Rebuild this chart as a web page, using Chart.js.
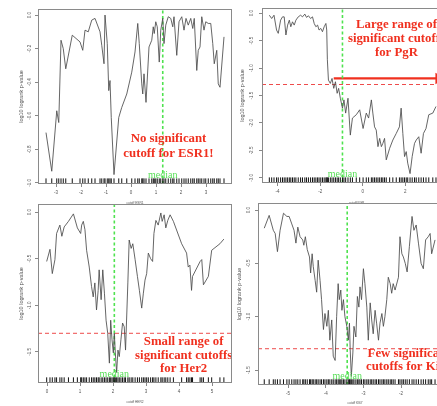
<!DOCTYPE html>
<html><head><meta charset="utf-8">
<script src="https://cdn.jsdelivr.net/npm/chart.js@4"></script>
<style>
html,body{margin:0;padding:0;background:#fff;width:437px;height:406px;overflow:hidden;position:relative}
canvas{position:absolute}
</style></head><body>
<canvas id="c1" width="236" height="207" style="left:0px;top:0px"></canvas>
<canvas id="c2" width="222" height="207" style="left:236px;top:0px"></canvas>
<canvas id="c3" width="236" height="210" style="left:0px;top:196px"></canvas>
<canvas id="c4" width="222" height="210" style="left:236px;top:196px"></canvas>
<script>
// ---------- data ----------
const esrX = [-3.40,-3.17,-2.97,-2.89,-2.80,-2.71,-2.61,-2.35,-2.04,-1.93,-1.84,-1.71,-1.57,-1.44,-1.24,-1.17,-1.08,-1.04,-0.95,-0.89,-0.84,-0.79,-0.68,-0.49,-0.37,-0.17,0.03,0.16,0.27,0.33,0.43,0.47,0.52,0.60,0.72,0.83,0.89,0.93,0.99,1.05,1.13,1.19,1.27,1.32,1.39,1.49,1.59,1.67,1.72,1.83,1.92,2.03,2.12,2.20,2.29,2.39,2.47,2.53,2.63,2.69,2.76,2.83,2.92,2.99,3.09,3.19,3.27,3.33,3.43,3.49,3.56,3.72];
const esrY = [-0.70,-0.93,-0.57,-0.64,-0.15,-0.20,-0.32,-0.12,-0.16,-0.21,-0.09,-0.10,-0.03,-0.02,-0.10,-0.18,-0.29,0.00,-0.17,-0.45,-0.39,-0.61,-0.95,-0.61,-0.55,-0.47,-0.34,-0.22,-0.05,-0.17,-0.41,-0.47,-0.35,-0.52,-0.19,-0.15,-0.07,-0.11,-0.04,-0.07,-0.28,-0.09,-0.02,-0.17,-0.06,-0.01,-0.02,-0.07,-0.01,-0.24,-0.04,-0.01,-0.09,-0.02,-0.06,-0.02,-0.08,-0.02,-0.33,-0.21,-0.19,-0.01,-0.09,-0.04,-0.05,-0.05,-0.17,-0.29,-0.21,-0.41,-0.43,-0.13];
const esrMedian = 1.27;
const esrXTicks = [-3,-2,-1,0,1,2,3];
const esrXLabels = ['-3','-2','-1','0','1','2','3'];
const esrYTicks = [0,-0.2,-0.4,-0.6,-0.8,-1.0];
const esrYLabels = ['0.0','-0.2','-0.4','-0.6','-0.8','-1.0'];

const pgrX = [-4.39,-4.28,-4.17,-4.05,-3.97,-3.86,-3.77,-3.69,-3.61,-3.53,-3.45,-3.38,-3.30,-3.22,-3.14,-3.03,-2.92,-2.83,-2.72,-2.64,-2.55,-2.45,-2.36,-2.28,-2.20,-2.12,-2.05,-1.97,-1.89,-1.81,-1.73,-1.69,-1.66,-1.61,-1.52,-1.44,-1.36,-1.28,-1.20,-1.13,-1.05,-0.95,-0.88,-0.80,-0.69,-0.58,-0.48,-0.30,-0.14,0.02,0.17,0.28,0.41,0.48,0.56,0.64,0.72,0.80,0.88,0.95,1.03,1.11,1.27,1.42,1.58,1.73,1.81,1.89,1.97,2.05,2.12,2.23,2.33,2.44,2.52,2.64,2.75,2.86,2.98,3.11,3.30,3.45];
const pgrY = [-0.04,-0.10,-0.04,-0.31,-0.37,-0.13,-0.07,-0.07,-0.40,-0.22,-0.13,-0.25,-0.16,-0.22,-0.13,-0.07,-0.04,-0.07,-0.02,-0.08,-0.05,-0.10,-0.07,-0.19,-0.25,-0.22,-0.31,-0.28,-0.34,-0.25,-0.19,-0.31,-0.85,-1.22,-1.28,-1.19,-1.37,-1.25,-1.46,-1.37,-1.55,-1.73,-1.58,-1.82,-1.55,-2.22,-1.91,-1.85,-1.76,-2.10,-1.82,-1.91,-1.58,-1.82,-2.07,-2.13,-2.43,-2.28,-2.43,-2.37,-2.28,-2.67,-2.46,-2.31,-2.19,-2.07,-1.73,-2.19,-2.61,-2.52,-2.73,-2.92,-2.61,-2.37,-2.31,-2.25,-2.55,-2.19,-2.10,-1.85,-1.82,-1.70];
const pgrMedian = -0.95;
const pgrXTicks = [-4,-2,0,2];
const pgrXLabels = ['-4','-2','0','2'];
const pgrYTicks = [0,-0.5,-1.0,-1.5,-2.0,-2.5,-3.0];
const pgrYLabels = ['0.0','-0.5','-1.0','-1.5','-2.0','-2.5','-3.0'];

const herX = [-0.01,0.09,0.16,0.24,0.29,0.39,0.45,0.52,0.65,0.80,0.92,1.02,1.05,1.10,1.15,1.20,1.28,1.35,1.40,1.45,1.50,1.55,1.58,1.64,1.69,1.74,1.79,1.84,1.89,1.93,1.97,2.01,2.04,2.07,2.11,2.15,2.19,2.24,2.29,2.34,2.38,2.45,2.49,2.55,2.60,2.67,2.74,2.80,2.87,2.92,2.97,3.02,3.07,3.14,3.20,3.24,3.30,3.37,3.45,3.49,3.55,3.60,3.66,3.73,3.83,4.08,4.23,4.28,4.33,4.38,4.41,4.64,4.69,4.74,4.89,4.99,5.24,5.36];
const herY = [-0.53,-0.40,-0.66,-0.51,-0.23,-0.14,-0.26,-0.16,-0.10,-0.02,-0.17,-0.23,-0.14,-0.10,-0.19,-0.41,-0.59,-0.80,-0.91,-0.76,-1.05,-0.84,-0.62,-0.94,-0.62,-0.87,-1.16,-1.30,-1.62,-1.16,-1.37,-1.51,-1.30,-1.51,-1.72,-1.48,-1.55,-1.37,-1.19,-1.23,-1.48,-0.76,-0.30,-0.39,-0.34,-0.51,-0.69,-0.84,-1.03,-0.87,-0.73,-0.66,-0.44,-0.50,-0.53,-0.23,-0.09,-0.14,-0.01,-0.10,-0.03,-0.17,-0.09,-0.03,-0.10,-0.34,-0.44,-0.59,-0.57,-0.84,-0.69,-0.53,-0.51,-0.78,-0.69,-0.41,-0.34,-0.29];
const herMedian = 2.04;
const herXTicks = [0,1,2,3,4,5];
const herXLabels = ['0','1','2','3','4','5'];
const herYTicks = [0,-0.5,-1.0,-1.5];
const herYLabels = ['0.0','-0.5','-1.0','-1.5'];

const kiX = [-5.63,-5.50,-5.39,-5.34,-5.28,-5.21,-5.12,-5.03,-4.97,-4.90,-4.84,-4.79,-4.74,-4.68,-4.61,-4.58,-4.54,-4.49,-4.43,-4.40,-4.36,-4.33,-4.28,-4.24,-4.20,-4.15,-4.11,-4.06,-4.02,-3.97,-3.93,-3.89,-3.84,-3.80,-3.75,-3.71,-3.67,-3.64,-3.60,-3.57,-3.53,-3.49,-3.44,-3.40,-3.37,-3.35,-3.32,-3.28,-3.25,-3.20,-3.16,-3.12,-3.09,-3.05,-3.00,-2.96,-2.91,-2.87,-2.82,-2.78,-2.74,-2.69,-2.65,-2.60,-2.56,-2.51,-2.47,-2.43,-2.38,-2.34,-2.29,-2.25,-2.21,-2.16,-2.07,-2.03,-1.98,-1.94,-1.89,-1.84,-1.78,-1.71,-1.66,-1.60,-1.54,-1.47,-1.41,-1.35,-1.28,-1.23,-1.19,-1.10];
const kiY = [-0.17,-0.05,-0.19,-0.22,-0.39,-0.19,-0.03,-0.06,-0.06,-0.13,-0.19,-0.31,-0.16,-0.25,-0.28,-0.33,-0.25,-0.37,-0.44,-0.59,-0.41,-0.53,-0.66,-0.77,-0.47,-0.66,-0.84,-1.12,-0.97,-1.09,-0.94,-1.22,-1.03,-1.37,-1.41,-1.00,-0.69,-0.84,-0.75,-0.94,-0.84,-1.00,-1.09,-1.22,-1.06,-1.31,-1.56,-1.34,-1.09,-1.19,-0.81,-0.91,-0.72,-0.84,-0.55,-0.69,-0.91,-1.22,-0.87,-1.03,-1.16,-0.94,-1.06,-1.22,-1.06,-0.97,-1.09,-1.00,-0.84,-0.63,-0.69,-0.78,-0.69,-0.75,-0.63,-0.25,-0.41,-0.44,-0.50,-0.58,-0.34,-0.06,-0.19,-0.14,-0.31,-0.50,-0.55,-0.28,-0.25,-0.22,-0.41,-0.28];
const kiMedian = -3.43;
const kiXTicks = [-5,-4,-3,-2];
const kiXLabels = ['-5','-4','-3','-2'];
const kiYTicks = [0,-0.5,-1.0,-1.5];
const kiYLabels = ['0.0','-0.5','-1.0','-1.5'];

const sigLevel = -1.30;  // log10(0.05)
const yTitle = 'log10 logrank p-value';

// ---------- drawing ----------
const TICK_FONT = {family:'Liberation Sans', size:4.5};
const RED = '#f0301f';

const notesPlugin = {
  id: 'notes',
  afterDatasetsDraw(chart, args, o) {
    const {ctx, chartArea: a, scales} = chart;
    const sx = scales.x, sy = scales.y;
    ctx.save();
    ctx.fillStyle = '#55de55';
    ctx.font = '10px "Liberation Serif"';
    ctx.textAlign = 'center'; ctx.textBaseline = 'middle';
    ctx.fillText('median', sx.getPixelForValue(o.median), a.bottom - o.medOff);
    ctx.fillStyle = RED;
    ctx.font = 'bold 12.8px "Liberation Serif"';
    const cx = sx.getPixelForValue(o.tx), cy = sy.getPixelForValue(o.ty);
    o.lines.forEach((t, i) => ctx.fillText(t, cx, cy + i * o.gap));
    ctx.strokeStyle = '#8a8a8a'; ctx.lineWidth = 1;
    ctx.strokeRect(Math.round(a.left) + 0.5, Math.round(a.top) + 0.5, Math.round(a.width) - 1, Math.round(a.height) - 1);
    ctx.restore();
  }
};

function makePanel(id, c) {
  const ds = [];
  ds.push({ data: c.xs.map((x, i) => ({x, y: c.ys[i]})), showLine: true, borderColor: '#4a4a4a', borderWidth: 0.85, pointRadius: 0 });
  const rugY = c.yMin + (c.yMax - c.yMin) * 0.016;
  ds.push({ data: c.xs.map(x => ({x, y: rugY})), showLine: false, pointStyle: 'line', pointRotation: 90, pointRadius: 2.8, pointBorderColor: '#111', pointBorderWidth: 1, pointHoverRadius: 0 });
  if (c.sig) ds.push({ data: [{x: c.xMin, y: sigLevel}, {x: c.xMax, y: sigLevel}], showLine: true, borderColor: '#ee4b4b', borderDash: [4, 3], borderWidth: 1, pointRadius: 0 });
  ds.push({ data: [{x: c.median, y: c.yMin}, {x: c.median, y: c.yMax}], showLine: true, borderColor: '#4fe24f', borderDash: [3, 2.5], borderWidth: 1.6, pointRadius: 0 });
  if (c.arrow) ds.push({ data: c.arrow.map(p => ({x: p[0], y: p[1]})), showLine: true, borderColor: RED, borderWidth: 2.2, pointRadius: [0, 4.5], pointStyle: 'triangle', pointRotation: 90, pointBackgroundColor: RED, pointBorderColor: RED });
  new Chart(document.getElementById(id), {
    type: 'scatter',
    data: { datasets: ds },
    plugins: [notesPlugin],
    options: {
      responsive: false, animation: false, events: [],
      layout: { padding: { left: 0, top: c.padTop, right: c.padRight, bottom: 0 } },
      plugins: { legend: { display: false }, tooltip: { enabled: false },
        notes: { median: c.median, medOff: 8.5, lines: c.lines, tx: c.tx, ty: c.ty, gap: c.gap } },
      scales: {
        x: {
          type: 'linear', min: c.xMin, max: c.xMax,
          afterBuildTicks: s => { s.ticks = c.xTicks.map(v => ({value: v})); },
          afterFit: s => { s.height = c.xH; },
          ticks: { font: TICK_FONT, color: '#555', padding: 2.6, autoSkip: false, maxRotation: 0, callback: (v, i) => c.xLabels[i] },
          grid: { drawOnChartArea: false, drawTicks: true, tickLength: 3, color: '#888' },
          border: { display: false },
          title: { display: true, text: c.xTitle, color: '#555', font: {family: 'Liberation Sans', size: 3.2}, padding: {top: 0, bottom: c.xTitlePad} }
        },
        y: {
          type: 'linear', min: c.yMin, max: c.yMax,
          afterBuildTicks: s => { s.ticks = c.yTicks.map(v => ({value: v})); },
          afterFit: s => { s.width = c.yW; },
          ticks: { font: TICK_FONT, color: '#555', padding: c.yTickPad, autoSkip: false, minRotation: 90, maxRotation: 90, crossAlign: 'center', callback: (v, i) => c.yLabels[i] },
          grid: { drawOnChartArea: false, drawTicks: true, tickLength: 3, color: '#888' },
          border: { display: false },
          title: { display: true, text: yTitle, color: '#555', font: {family: 'Liberation Sans', size: 5.5}, padding: {top: c.yTitlePad, bottom: 0} }
        }
      }
    }
  });
}

makePanel('c1', { xs: esrX, ys: esrY, median: esrMedian, xTicks: esrXTicks, xLabels: esrXLabels, yTicks: esrYTicks, yLabels: esrYLabels,
  xMin: -3.72, xMax: 4.04, yMin: -1.006, yMax: 0.036, sig: false, padTop: 9, padRight: 4, xH: 23, yW: 38, yTickPad: 1.1, yTitlePad: 17.7, xTitlePad: 2.1,
  xTitle: 'cutoff ESR1', lines: ['No significant', 'cutoff for ESR1!'], tx: 1.5, ty: -0.738, gap: 15 });

makePanel('c2', { xs: pgrX, ys: pgrY, median: pgrMedian, xTicks: pgrXTicks, xLabels: pgrXLabels, yTicks: pgrYTicks, yLabels: pgrYLabels,
  xMin: -4.735, xMax: 4.17, yMin: -3.091, yMax: 0.091, sig: true, padTop: 8, padRight: 6, xH: 24, yW: 26, yTickPad: 3.1, yTitlePad: 2.7, xTitlePad: 2.1,
  xTitle: 'cutoff PGR', lines: ['Large range of', 'significant cutoffs', 'for PgR'], tx: 1.59, ty: -0.218, gap: 14,
  arrow: [[-1.36, -1.19], [3.58, -1.19]] });

makePanel('c3', { xs: herX, ys: herY, median: herMedian, xTicks: herXTicks, xLabels: herXLabels, yTicks: herYTicks, yLabels: herYLabels,
  xMin: -0.273, xMax: 5.606, yMin: -1.833, yMax: 0.086, sig: true, padTop: 8, padRight: 4, xH: 23, yW: 38, yTickPad: 1.1, yTitlePad: 17.7, xTitlePad: 2.1,
  xTitle: 'cutoff HER2', lines: ['Small range of', 'significant cutoffs', 'for Her2'], tx: 4.14, ty: -1.393, gap: 13.5 });

makePanel('c4', { xs: kiX, ys: kiY, median: kiMedian, xTicks: kiXTicks, xLabels: kiXLabels, yTicks: kiYTicks, yLabels: kiYLabels,
  xMin: -5.796, xMax: -0.65, yMin: -1.64, yMax: 0.066, sig: true, padTop: 7, padRight: 6, xH: 21, yW: 22, yTickPad: 2.1, yTitlePad: 0, xTitlePad: 1.1,
  xTitle: 'cutoff KI67', lines: ['Few significant', 'cutoffs for Ki67'], tx: -1.79, ty: -1.35, gap: 13 });
</script>
</body></html>
